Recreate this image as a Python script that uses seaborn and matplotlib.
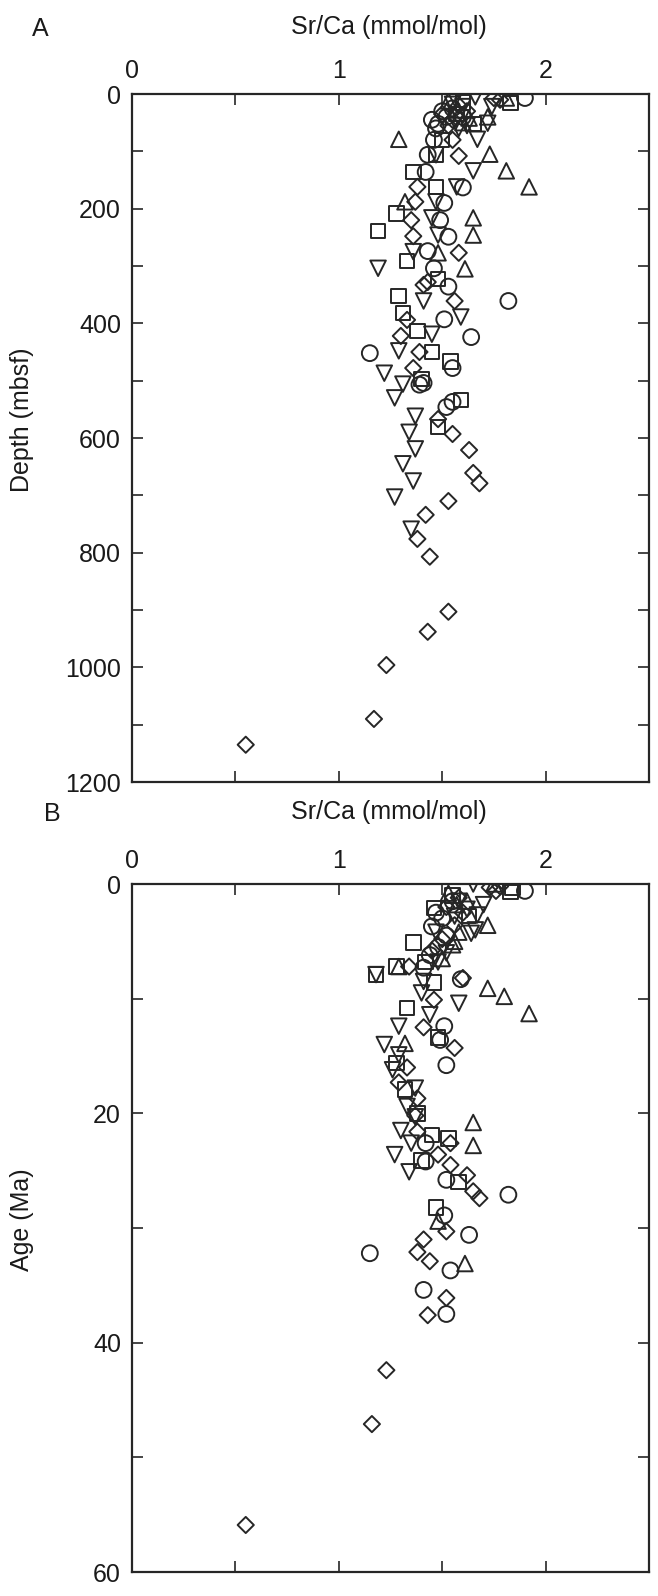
import matplotlib
matplotlib.use("Agg")
import matplotlib.pyplot as plt
import seaborn as sns
import pandas as pd
from matplotlib.ticker import MultipleLocator

sns.set_theme(style="white")
plt.rcParams['font.family'] = ['Liberation Sans', 'DejaVu Sans']

# ---------------- Panel A: Sr/Ca vs depth (mbsf) ----------------
a_circle_x = [1.90, 1.45, 1.47, 1.50, 1.48, 1.52, 1.55, 1.60, 1.46, 1.43, 1.42, 1.60, 1.51, 1.49,
              1.53, 1.43, 1.46, 1.53, 1.82, 1.51, 1.64, 1.15, 1.55, 1.39, 1.41, 1.52, 1.55]
a_circle_d = [7, 45, 60, 30, 52, 40, 25, 40, 80, 106, 136, 163, 190, 220,
              249, 274, 304, 336, 361, 393, 424, 452, 478, 507, 504, 546, 537]

a_diamond_x = [1.75, 1.78, 1.50, 1.55, 1.58, 1.62, 1.53, 1.55, 1.58, 1.38, 1.37, 1.35, 1.36, 1.58,
               1.41, 1.43, 1.56, 1.33, 1.30, 1.39, 1.36, 1.48, 1.55, 1.63, 1.65, 1.68, 1.53, 1.42,
               1.38, 1.44, 1.53, 1.43, 1.23, 1.17, 0.55]
a_diamond_d = [7, 10, 35, 45, 20, 30, 55, 80, 108, 162, 188, 220, 248, 277,
               333, 328, 361, 394, 422, 450, 478, 567, 593, 621, 661, 679, 710, 734,
               776, 807, 903, 938, 996, 1090, 1135]

a_square_x = [1.83, 1.65, 1.57, 1.60, 1.50, 1.47, 1.36, 1.47, 1.28, 1.19, 1.33, 1.48, 1.29, 1.31,
              1.38, 1.45, 1.54, 1.40, 1.59, 1.48]
a_square_d = [16, 52, 35, 15, 80, 106, 136, 162, 208, 239, 291, 323, 352, 382,
              413, 450, 467, 497, 534, 581]

a_up_x = [1.81, 1.72, 1.53, 1.57, 1.60, 1.63, 1.29, 1.73, 1.81, 1.92, 1.32, 1.65, 1.65, 1.48, 1.61]
a_up_d = [7, 40, 12, 28, 50, 42, 79, 105, 134, 162, 188, 216, 246, 277, 305]

a_down_x = [1.66, 1.74, 1.72, 1.55, 1.60, 1.62, 1.58, 1.67, 1.47, 1.65, 1.57, 1.47, 1.45, 1.48,
            1.36, 1.19, 1.41, 1.59, 1.45, 1.29, 1.22, 1.31, 1.27, 1.37, 1.34, 1.37, 1.31, 1.36,
            1.27, 1.35]
a_down_d = [5, 22, 51, 18, 22, 55, 60, 79, 106, 134, 162, 188, 216, 246,
            275, 304, 361, 389, 419, 448, 487, 506, 530, 562, 590, 619, 645, 675,
            703, 759]

# ---------------- Panel B: Sr/Ca vs age (Ma) ----------------
b_circle_x = [1.90, 1.47, 1.45, 1.50, 1.52, 1.48, 1.55, 1.44, 1.41, 1.59, 1.51, 1.49, 1.52, 1.42,
              1.42, 1.52, 1.82, 1.51, 1.63, 1.15, 1.54, 1.41, 1.52]
b_circle_t = [0.6, 2.5, 3.7, 3.0, 4.5, 5.5, 1.5, 6.2, 7.3, 8.3, 12.4, 13.6, 15.8, 22.6,
              24.2, 25.8, 27.1, 28.9, 30.6, 32.2, 33.7, 35.4, 37.5]

b_diamond_x = [1.73, 1.76, 1.78, 1.52, 1.56, 1.58, 1.50, 1.45, 1.60, 1.34, 1.60, 1.46, 1.41, 1.56,
               1.33, 1.29, 1.38, 1.37, 1.38, 1.54, 1.48, 1.54, 1.62, 1.65, 1.68, 1.52, 1.41, 1.38,
               1.44, 1.52, 1.43, 1.23, 1.16, 0.55]
b_diamond_t = [0.3, 0.6, 0.2, 2.0, 3.6, 1.2, 4.8, 5.8, 2.5, 7.2, 8.2, 10.1, 12.5, 14.3,
               16.0, 17.3, 18.7, 20.2, 21.6, 22.6, 23.6, 24.5, 25.4, 26.8, 27.4, 30.3, 31.0, 32.1,
               32.9, 36.1, 37.6, 42.4, 47.1, 55.9]

b_square_x = [1.83, 1.84, 1.46, 1.55, 1.36, 1.63, 1.42, 1.28, 1.18, 1.46, 1.33, 1.48, 1.28, 1.32,
              1.38, 1.45, 1.53, 1.40, 1.58, 1.47]
b_square_t = [0.7, 0.3, 2.1, 1.0, 5.1, 2.8, 6.8, 7.2, 7.9, 8.6, 10.8, 13.4, 15.6, 17.9,
              20.0, 21.9, 22.2, 24.1, 26.0, 28.2]

b_up_x = [1.75, 1.72, 1.53, 1.57, 1.62, 1.55, 1.58, 1.50, 1.56, 1.29, 1.72, 1.80, 1.92, 1.32,
          1.65, 1.65, 1.48, 1.61]
b_up_t = [0.0, 3.6, 0.8, 1.8, 1.5, 5.3, 4.2, 6.5, 5.0, 7.2, 9.1, 9.8, 11.3, 13.9,
          20.8, 22.8, 29.4, 33.1]

b_down_x = [1.65, 1.70, 1.67, 1.64, 1.58, 1.62, 1.56, 1.66, 1.52, 1.47, 1.48, 1.18, 1.41, 1.40,
            1.58, 1.44, 1.29, 1.22, 1.29, 1.26, 1.37, 1.33, 1.37, 1.30, 1.35, 1.27, 1.34]
b_down_t = [0.0, 1.8, 2.7, 4.3, 1.5, 2.2, 2.8, 4.0, 6.0, 4.2, 6.8, 7.9, 8.5, 9.5,
            10.4, 11.4, 12.4, 14.0, 14.9, 16.2, 17.8, 19.4, 20.3, 21.5, 22.6, 23.6, 25.1]

x_ticks = [0, 1, 2]
depth_ticks = [0, 200, 400, 600, 800, 1000, 1200]
age_ticks = [0, 20, 40, 60]

EC = "#262626"
TC = "#1a1a1a"
FS = 18
shapes = [("o", 130), ("D", 68), ("s", 110), ("^", 125), ("v", 125)]

W, H = 658, 1596
fig = plt.figure(figsize=(W / 100, H / 100), dpi=100)
left, right = 132 / W, 649 / W
axA = fig.add_axes([left, 1 - 782 / H, right - left, (782 - 94) / H])
axB = fig.add_axes([left, 1 - 1572 / H, right - left, (1572 - 884) / H])

panelA = [(a_circle_x, a_circle_d), (a_diamond_x, a_diamond_d), (a_square_x, a_square_d),
          (a_up_x, a_up_d), (a_down_x, a_down_d)]
panelB = [(b_circle_x, b_circle_t), (b_diamond_x, b_diamond_t), (b_square_x, b_square_t),
          (b_up_x, b_up_t), (b_down_x, b_down_t)]

for ax, groups in ((axA, panelA), (axB, panelB)):
    for (mk, sz), (xs, ys) in zip(shapes, groups):
        df = pd.DataFrame({"x": xs, "y": ys})
        sns.scatterplot(data=df, x="x", y="y", marker=mk, s=sz, facecolor="none",
                        edgecolor=EC, linewidth=1.4, ax=ax, legend=False, zorder=3)

def style_axis(ax, yticks, ymax, yminor):
    ax.set_xlim(0, 2.5)
    ax.set_ylim(ymax, 0)
    ax.set_xticks(x_ticks)
    ax.set_xticklabels([str(t) for t in x_ticks])
    ax.xaxis.set_minor_locator(MultipleLocator(0.5))
    ax.set_yticks(yticks)
    ax.set_yticklabels([str(t) for t in yticks])
    ax.yaxis.set_minor_locator(MultipleLocator(yminor))
    ax.xaxis.tick_top()
    ax.tick_params(axis="x", which="both", direction="in", top=True, bottom=True,
                   labeltop=True, labelbottom=False, length=8, width=1.2, color=EC,
                   labelsize=FS, pad=8, labelcolor=TC)
    ax.tick_params(axis="y", which="both", direction="in", left=True, right=True,
                   labelleft=True, labelright=False, length=8, width=1.2, color=EC,
                   labelsize=FS, pad=8, labelcolor=TC)
    ax.set_xlabel("")
    ax.set_ylabel("")
    for sp in ax.spines.values():
        sp.set_linewidth(1.6)
        sp.set_color(EC)
    ax.set_facecolor("white")

style_axis(axA, depth_ticks, 1200, 100)
style_axis(axB, age_ticks, 60, 10)

fig.text(40 / W, 1 - 29 / H, "A", fontsize=FS, ha="center", va="center", color=TC)
fig.text(389 / W, 1 - 27 / H, "Sr/Ca (mmol/mol)", fontsize=FS, ha="center", va="center", color=TC)
fig.text(52 / W, 1 - 814 / H, "B", fontsize=FS, ha="center", va="center", color=TC)
fig.text(389 / W, 1 - 812 / H, "Sr/Ca (mmol/mol)", fontsize=FS, ha="center", va="center", color=TC)
fig.text(22 / W, 1 - 420 / H, "Depth (mbsf)", fontsize=FS, ha="center", va="center",
         rotation=90, color=TC)
fig.text(22 / W, 1 - 1220 / H, "Age (Ma)", fontsize=FS, ha="center", va="center",
         rotation=90, color=TC)

fig.savefig("out.png", dpi=100, facecolor="white")
